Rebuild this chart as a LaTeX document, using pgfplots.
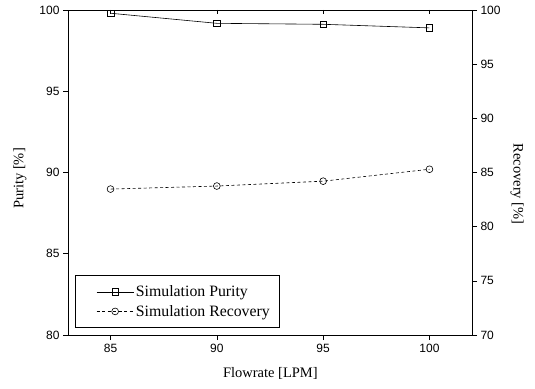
\documentclass[border=0pt]{standalone}
\usepackage{pgfplots}
\pgfplotsset{compat=1.18}
\usepackage{fontspec}
\setmainfont{Liberation Serif}
\newfontfamily\tickfont{Liberation Sans}
\pgfplotsset{
  base/.style={
    scale only axis, width=404pt, height=325pt,
    xmin=83, xmax=102,
    /pgf/number format/assume math mode=true,
    ticklabel style={font=\tickfont\fontsize{12}{13}\selectfont},
    label style={font=\fontsize{14.5}{16}\selectfont},
    major tick length=5pt,
    tick style={black, line width=0.6pt},
    axis line style={black, line width=0.7pt},
  }
}
\begin{document}
\begin{tikzpicture}
\begin{axis}[
  base, name=ax,
  ymin=80, ymax=100,
  xtick={85,90,95,100}, ytick={80,85,90,95,100},
  xtick pos=bottom, ytick pos=left,
  tick align=outside,
  xticklabel style={yshift=-1pt},
  xlabel={Flowrate [LPM]}, ylabel={Purity [\%]},
  xlabel style={at={(rel axis cs:0.501,-0.1169)}, anchor=center},
  ylabel style={at={(rel axis cs:-0.1188,0.4815)}, anchor=center},
  clip=true,
  legend style={at={(rel axis cs:0.0173,0.0215)}, anchor=south west, draw=black, line width=0.7pt,
    font=\fontsize{15.8}{17}\selectfont, row sep=3pt, inner xsep=8pt, inner ysep=8pt,
    nodes={inner xsep=2pt}},
  legend cell align=left,
  legend image code/.code={\path (-13pt,0pt); \draw[#1] (0pt,0pt) -- (37pt,0pt); \draw[#1,solid] plot coordinates {(18.5pt,0pt)};},
]
\addplot[black, line width=0.6pt, mark=square, mark size=3.3pt, mark options={solid, fill=white}] coordinates {(85,99.8) (90,99.18) (95,99.12) (100,98.9)};
\addlegendentry{Simulation Purity}
\addlegendimage{black, line width=0.6pt, dash pattern=on 3pt off 2.5pt, mark=o, mark size=3.4pt, mark options={solid}}
\addlegendentry{Simulation Recovery}
\coordinate (sw) at (rel axis cs:0,0);
\coordinate (ne) at (rel axis cs:1,1);
\end{axis}
\begin{axis}[
  base,
  ymin=70, ymax=100,
  ytick={70,75,80,85,90,95,100},
  axis y line*=right, axis x line=none,
  tick align=outside,
  ylabel={Recovery [\%]},
  ylabel style={rotate=180, at={(rel axis cs:1.1114,0.4646)}, anchor=center},
]
\addplot[black, line width=0.6pt, dash pattern=on 3pt off 2.5pt, mark=o, mark size=3.4pt, mark options={solid, fill=white}] coordinates {(85,83.47) (90,83.75) (95,84.2) (100,85.3)};
\end{axis}
\begin{axis}[
  base,
  ymin=80, ymax=100,
  axis x line*=top, axis y line=none,
  xtick={85,90,95,100}, xticklabels={},
  tick align=inside, major tick length=4pt,
]
\end{axis}
\path[use as bounding box] ([shift={(-68pt,-53pt)}]sw) rectangle ([shift={(63pt,10pt)}]ne);
\end{tikzpicture}
\end{document}
